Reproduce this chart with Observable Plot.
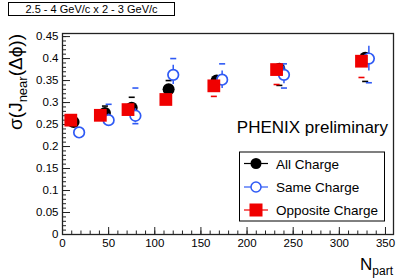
<!DOCTYPE html>
<html><head><meta charset="utf-8">
<script src="https://cdn.jsdelivr.net/npm/d3@7"></script>
<script src="https://cdn.jsdelivr.net/npm/@observablehq/plot@0.6"></script>
<style>body{margin:0;background:#fff} svg{display:block}</style>
</head><body><div id="chart"></div>
<script>
// ---- data ----
const allN   = [12, 46, 75, 115, 167, 235, 328];
const allV   = [0.256, 0.276, 0.288, 0.330, 0.350, 0.377, 0.402];
const allE   = [0.005, 0.006, 0.006, 0.007, 0.008, 0.008, 0.010];
const allHi  = [null, 0.292, 0.312, 0.350, null, null, null];
const allLo  = [null, null, null, null, null, 0.339, 0.348];

const sameN  = [18, 50, 79, 120, 173, 240, 332];
const sameV  = [0.232, 0.260, 0.270, 0.363, 0.352, 0.363, 0.400];
const sameE  = [0.010, 0.014, 0.016, 0.022, 0.020, 0.020, 0.028];
const sameHi = [null, 0.296, 0.333, 0.400, 0.388, 0.388, null];
const sameLo = [null, null, 0.252, null, null, 0.333, 0.345];

const oppN   = [9, 41, 71, 112, 164, 232, 324];
const oppV   = [0.260, 0.271, 0.284, 0.307, 0.338, 0.375, 0.394];
const oppE   = [0.010, 0.010, 0.010, 0.010, 0.010, 0.010, 0.010];
const oppHi  = [null, null, null, null, null, null, null];
const oppLo  = [null, null, null, null, 0.314, 0.341, 0.357];

const yTickLabels = [0, 0.05, 0.1, 0.15, 0.2, 0.25, 0.3, 0.35, 0.4, 0.45];
const xTickLabels = [0, 50, 100, 150, 200, 250, 300, 350];
const yMinor = d3.range(0, 46).map(i => i / 100);
const xMinor = d3.range(0, 36).map(i => i * 10);

const seriesNames = ["All Charge", "Same Charge", "Opposite Charge"];
const titleText = "2.5 - 4 GeV/c x 2 - 3 GeV/c";
const labelText = "PHENIX preliminary";

// ---- build tables ----
function rows(N, V, E) { return N.map((n, i) => ({n, v: V[i], e: E[i]})); }
function sys(N, Hi, Lo) {
  const out = [];
  N.forEach((n, i) => {
    if (Hi[i] != null) out.push({n, v: Hi[i]});
    if (Lo[i] != null) out.push({n, v: Lo[i]});
  });
  return out;
}
const all = rows(allN, allV, allE), same = rows(sameN, sameV, sameE), opp = rows(oppN, oppV, oppE);
const allSys = sys(allN, allHi, allLo), sameSys = sys(sameN, sameHi, sameLo), oppSys = sys(oppN, oppHi, oppLo);

const BLACK = "#000", BLUE = "#2f5af5", RED = "#f00000";
const dash = {draw(ctx, size) { const w = Math.sqrt(size) / 2; ctx.moveTo(-w, 0); ctx.lineTo(w, 0); }};

const errRule = (data, color) => Plot.ruleX(data, {x: "n", y1: d => d.v - d.e, y2: d => d.v + d.e, stroke: color, strokeWidth: 1.5});
const sysMark = (data, color) => Plot.dot(data, {x: "n", y: "v", symbol: dash, r: 3.4, stroke: color, strokeWidth: 1.6});

const W = 398, H = 279;
const chart = Plot.plot({
  width: W, height: H,
  marginLeft: 62, marginRight: 5, marginTop: 33, marginBottom: 45,
  style: {fontFamily: "Liberation Sans, Arial, sans-serif", fontSize: "11.5px", color: "#000", background: "#fff"},
  x: {domain: [0, 358.7], label: null},
  y: {domain: [0, 0.457], label: null},
  marks: [
    Plot.axisY({ticks: yTickLabels, tickSize: 0, tickPadding: 4, label: null, tickFormat: d => String(d), fill: "#000"}),
    Plot.axisY({ticks: yTickLabels, tickSize: -8, tickFormat: () => "", label: null, stroke: "#222", strokeWidth: 1}),
    Plot.axisY({ticks: yMinor, tickSize: -4, tickFormat: () => "", label: null, stroke: "#222", strokeWidth: 1}),
    Plot.axisX({ticks: xTickLabels, tickSize: 0, tickPadding: 4, label: null, tickFormat: d => String(d), fill: "#000"}),
    Plot.axisX({ticks: xTickLabels, tickSize: -7, tickFormat: () => "", label: null, stroke: "#222", strokeWidth: 1}),
    Plot.axisX({ticks: xMinor, tickSize: -3.5, tickFormat: () => "", label: null, stroke: "#222", strokeWidth: 1}),
    Plot.frame({stroke: "#222", strokeWidth: 1.3}),
    errRule(all, BLACK), sysMark(allSys, BLACK),
    Plot.dot(all, {x: "n", y: "v", r: 6, fill: BLACK, stroke: "none"}),
    errRule(same, BLUE), sysMark(sameSys, BLUE),
    Plot.dot(same, {x: "n", y: "v", r: 5.3, fill: "white", stroke: BLUE, strokeWidth: 1.7}),
    errRule(opp, RED), sysMark(oppSys, RED),
    Plot.dot(opp, {x: "n", y: "v", r: 7.2, symbol: "square", fill: RED, stroke: "none"})
  ]
});

const svg = d3.select(chart);
const FONT = "Liberation Sans, Arial, sans-serif";

// title box
svg.append("rect").attr("x", 8.5).attr("y", 2.5).attr("width", 166).attr("height", 13)
  .attr("fill", "white").attr("stroke", "#000").attr("stroke-width", 1);
svg.append("text").attr("x", 91.5).attr("y", 13).attr("text-anchor", "middle")
  .attr("font-family", FONT).attr("font-size", 11).attr("fill", "#000").text(titleText);

// y axis title
const yt = svg.append("text").attr("transform", "translate(22,34) rotate(-90)")
  .attr("text-anchor", "end").attr("font-family", FONT).attr("font-size", 19).attr("fill", "#000");
yt.append("tspan").text("σ(J");
yt.append("tspan").attr("font-size", 13).attr("dy", 5).text("near");
yt.append("tspan").attr("dy", -5).text("(Δϕ))");

// x axis title
const xt = svg.append("text").attr("x", 393).attr("y", 270).attr("text-anchor", "end")
  .attr("font-family", FONT).attr("font-size", 17).attr("fill", "#000");
xt.append("tspan").text("N");
xt.append("tspan").attr("font-size", 12).attr("dy", 5).text("part");

// PHENIX preliminary
svg.append("text").attr("x", 388).attr("y", 133).attr("text-anchor", "end")
  .attr("font-family", FONT).attr("font-size", 17).attr("fill", "#000").text(labelText);

// legend
const lg = svg.append("g");
lg.append("rect").attr("x", 239.5).attr("y", 152).attr("width", 145).attr("height", 69)
  .attr("fill", "white").attr("stroke", "#000").attr("stroke-width", 1);
const colors = [BLACK, BLUE, RED];
const ys = [163.5, 187, 210];
seriesNames.forEach((name, i) => {
  const y = ys[i];
  lg.append("line").attr("x1", 244).attr("x2", 268).attr("y1", y).attr("y2", y)
    .attr("stroke", colors[i]).attr("stroke-width", 1.2);
  if (i === 0) lg.append("circle").attr("cx", 256).attr("cy", y).attr("r", 5.5).attr("fill", BLACK);
  if (i === 1) lg.append("circle").attr("cx", 256).attr("cy", y).attr("r", 5).attr("fill", "white").attr("stroke", BLUE).attr("stroke-width", 1.5);
  if (i === 2) lg.append("rect").attr("x", 249.5).attr("y", y - 6.5).attr("width", 13).attr("height", 13).attr("fill", RED);
  lg.append("text").attr("x", 276).attr("y", y + 5).attr("text-anchor", "start")
    .attr("font-family", FONT).attr("font-size", 13.5).attr("fill", "#000").text(name);
});

document.getElementById("chart").appendChild(chart);
</script>
</body></html>
